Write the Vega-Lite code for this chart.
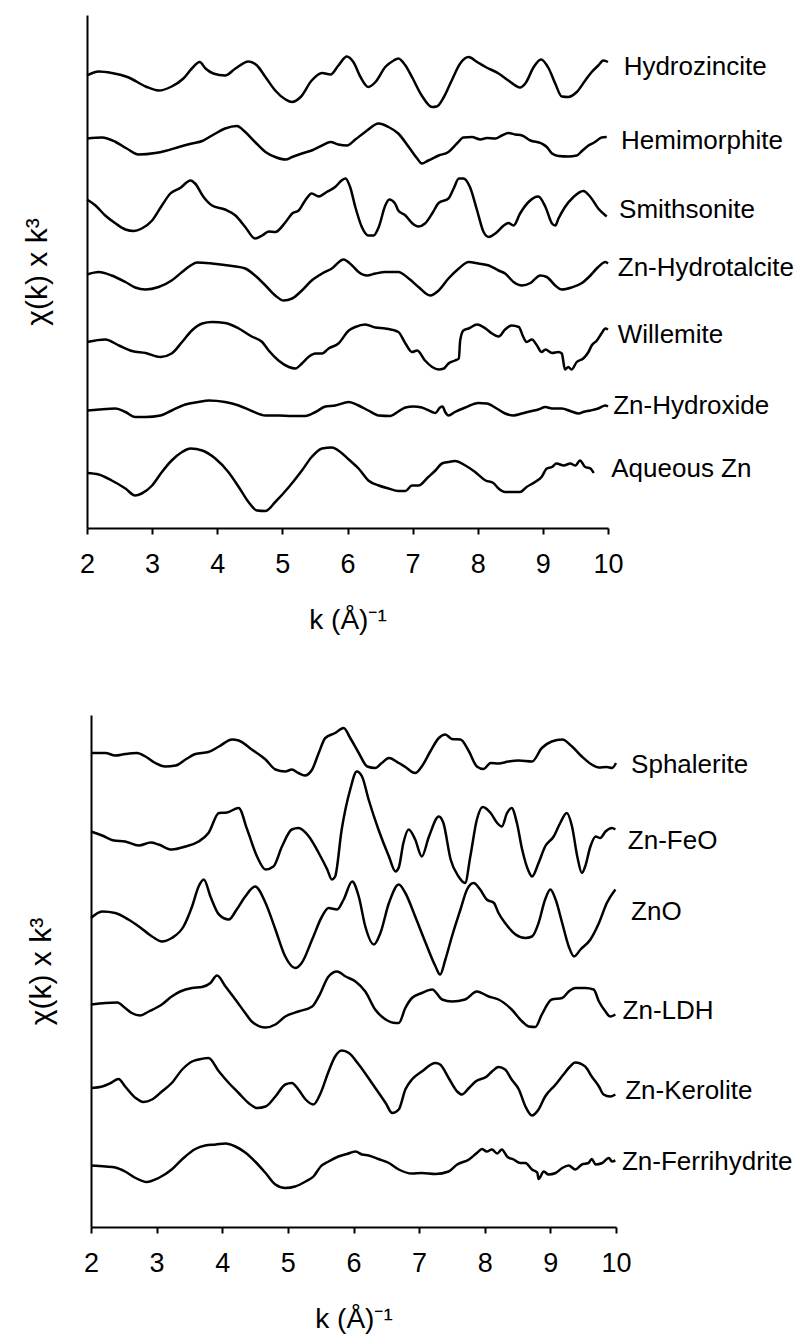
{
  "$schema": "https://vega.github.io/schema/vega-lite/v6.json",
  "background": "white",
  "padding": {"left": 22, "top": 15, "right": 5, "bottom": 5},
  "bounds": "full",
  "spacing": 81,
  "config": {
    "font": "Liberation Sans",
    "view": {"stroke": null},
    "axis": {
      "grid": false,
      "domainColor": "black",
      "domainWidth": 2,
      "tickColor": "black",
      "tickWidth": 2,
      "labelColor": "black",
      "titleColor": "black",
      "labelFont": "Liberation Sans",
      "titleFont": "Liberation Sans",
      "titleFontWeight": "normal"
    },
    "text": {"font": "Liberation Sans", "color": "black"}
  },
  "datasets": {
    "upper": [
      {"sample":"Hydrozincite","k":2.00,"chi":9.05},{"sample":"Hydrozincite","k":2.18,"chi":9.13},{"sample":"Hydrozincite","k":2.38,"chi":9.10},{"sample":"Hydrozincite","k":2.64,"chi":9.01},{"sample":"Hydrozincite","k":2.90,"chi":8.83},{"sample":"Hydrozincite","k":3.10,"chi":8.75},{"sample":"Hydrozincite","k":3.30,"chi":8.83},{"sample":"Hydrozincite","k":3.48,"chi":8.99},{"sample":"Hydrozincite","k":3.61,"chi":9.19},{"sample":"Hydrozincite","k":3.73,"chi":9.32},{"sample":"Hydrozincite","k":3.82,"chi":9.19},{"sample":"Hydrozincite","k":3.94,"chi":9.09},{"sample":"Hydrozincite","k":4.12,"chi":9.05},{"sample":"Hydrozincite","k":4.28,"chi":9.19},{"sample":"Hydrozincite","k":4.48,"chi":9.33},{"sample":"Hydrozincite","k":4.61,"chi":9.25},{"sample":"Hydrozincite","k":4.74,"chi":9.02},{"sample":"Hydrozincite","k":4.89,"chi":8.75},{"sample":"Hydrozincite","k":5.05,"chi":8.57},{"sample":"Hydrozincite","k":5.15,"chi":8.52},{"sample":"Hydrozincite","k":5.28,"chi":8.62},{"sample":"Hydrozincite","k":5.45,"chi":8.95},{"sample":"Hydrozincite","k":5.61,"chi":9.10},{"sample":"Hydrozincite","k":5.74,"chi":9.07},{"sample":"Hydrozincite","k":5.86,"chi":9.25},{"sample":"Hydrozincite","k":5.99,"chi":9.43},{"sample":"Hydrozincite","k":6.09,"chi":9.32},{"sample":"Hydrozincite","k":6.20,"chi":9.02},{"sample":"Hydrozincite","k":6.32,"chi":8.82},{"sample":"Hydrozincite","k":6.43,"chi":8.92},{"sample":"Hydrozincite","k":6.58,"chi":9.22},{"sample":"Hydrozincite","k":6.71,"chi":9.35},{"sample":"Hydrozincite","k":6.78,"chi":9.39},{"sample":"Hydrozincite","k":6.89,"chi":9.25},{"sample":"Hydrozincite","k":6.99,"chi":9.02},{"sample":"Hydrozincite","k":7.14,"chi":8.65},{"sample":"Hydrozincite","k":7.30,"chi":8.42},{"sample":"Hydrozincite","k":7.37,"chi":8.43},{"sample":"Hydrozincite","k":7.48,"chi":8.62},{"sample":"Hydrozincite","k":7.60,"chi":8.95},{"sample":"Hydrozincite","k":7.73,"chi":9.29},{"sample":"Hydrozincite","k":7.86,"chi":9.42},{"sample":"Hydrozincite","k":7.99,"chi":9.32},{"sample":"Hydrozincite","k":8.12,"chi":9.22},{"sample":"Hydrozincite","k":8.32,"chi":9.09},{"sample":"Hydrozincite","k":8.47,"chi":8.95},{"sample":"Hydrozincite","k":8.65,"chi":8.81},{"sample":"Hydrozincite","k":8.73,"chi":8.89},{"sample":"Hydrozincite","k":8.86,"chi":9.22},{"sample":"Hydrozincite","k":8.97,"chi":9.37},{"sample":"Hydrozincite","k":9.09,"chi":9.19},{"sample":"Hydrozincite","k":9.19,"chi":8.89},{"sample":"Hydrozincite","k":9.29,"chi":8.63},{"sample":"Hydrozincite","k":9.39,"chi":8.62},{"sample":"Hydrozincite","k":9.52,"chi":8.72},{"sample":"Hydrozincite","k":9.65,"chi":8.95},{"sample":"Hydrozincite","k":9.75,"chi":9.12},{"sample":"Hydrozincite","k":9.85,"chi":9.25},{"sample":"Hydrozincite","k":9.93,"chi":9.35},{"sample":"Hydrozincite","k":10.00,"chi":9.32},

      {"sample":"Hemimorphite","k":2.00,"chi":7.79},{"sample":"Hemimorphite","k":2.23,"chi":7.81},{"sample":"Hemimorphite","k":2.44,"chi":7.72},{"sample":"Hemimorphite","k":2.61,"chi":7.59},{"sample":"Hemimorphite","k":2.79,"chi":7.47},{"sample":"Hemimorphite","k":3.05,"chi":7.50},{"sample":"Hemimorphite","k":3.20,"chi":7.54},{"sample":"Hemimorphite","k":3.41,"chi":7.62},{"sample":"Hemimorphite","k":3.61,"chi":7.69},{"sample":"Hemimorphite","k":3.77,"chi":7.74},{"sample":"Hemimorphite","k":3.92,"chi":7.85},{"sample":"Hemimorphite","k":4.12,"chi":7.99},{"sample":"Hemimorphite","k":4.30,"chi":8.04},{"sample":"Hemimorphite","k":4.43,"chi":7.92},{"sample":"Hemimorphite","k":4.58,"chi":7.72},{"sample":"Hemimorphite","k":4.74,"chi":7.52},{"sample":"Hemimorphite","k":4.89,"chi":7.42},{"sample":"Hemimorphite","k":5.05,"chi":7.37},{"sample":"Hemimorphite","k":5.15,"chi":7.42},{"sample":"Hemimorphite","k":5.30,"chi":7.49},{"sample":"Hemimorphite","k":5.45,"chi":7.55},{"sample":"Hemimorphite","k":5.61,"chi":7.65},{"sample":"Hemimorphite","k":5.74,"chi":7.72},{"sample":"Hemimorphite","k":5.86,"chi":7.67},{"sample":"Hemimorphite","k":5.99,"chi":7.65},{"sample":"Hemimorphite","k":6.12,"chi":7.77},{"sample":"Hemimorphite","k":6.27,"chi":7.92},{"sample":"Hemimorphite","k":6.48,"chi":8.09},{"sample":"Hemimorphite","k":6.63,"chi":8.02},{"sample":"Hemimorphite","k":6.78,"chi":7.89},{"sample":"Hemimorphite","k":6.94,"chi":7.62},{"sample":"Hemimorphite","k":7.07,"chi":7.39},{"sample":"Hemimorphite","k":7.14,"chi":7.29},{"sample":"Hemimorphite","k":7.24,"chi":7.35},{"sample":"Hemimorphite","k":7.40,"chi":7.45},{"sample":"Hemimorphite","k":7.55,"chi":7.52},{"sample":"Hemimorphite","k":7.68,"chi":7.69},{"sample":"Hemimorphite","k":7.78,"chi":7.81},{"sample":"Hemimorphite","k":7.91,"chi":7.82},{"sample":"Hemimorphite","k":8.04,"chi":7.77},{"sample":"Hemimorphite","k":8.14,"chi":7.80},{"sample":"Hemimorphite","k":8.27,"chi":7.79},{"sample":"Hemimorphite","k":8.37,"chi":7.85},{"sample":"Hemimorphite","k":8.47,"chi":7.90},{"sample":"Hemimorphite","k":8.58,"chi":7.87},{"sample":"Hemimorphite","k":8.68,"chi":7.85},{"sample":"Hemimorphite","k":8.81,"chi":7.75},{"sample":"Hemimorphite","k":8.98,"chi":7.69},{"sample":"Hemimorphite","k":9.06,"chi":7.62},{"sample":"Hemimorphite","k":9.14,"chi":7.49},{"sample":"Hemimorphite","k":9.24,"chi":7.44},{"sample":"Hemimorphite","k":9.39,"chi":7.43},{"sample":"Hemimorphite","k":9.52,"chi":7.45},{"sample":"Hemimorphite","k":9.60,"chi":7.54},{"sample":"Hemimorphite","k":9.70,"chi":7.65},{"sample":"Hemimorphite","k":9.80,"chi":7.72},{"sample":"Hemimorphite","k":9.90,"chi":7.81},{"sample":"Hemimorphite","k":9.98,"chi":7.82},

      {"sample":"Smithsonite","k":2.00,"chi":6.57},{"sample":"Smithsonite","k":2.13,"chi":6.45},{"sample":"Smithsonite","k":2.28,"chi":6.25},{"sample":"Smithsonite","k":2.44,"chi":6.09},{"sample":"Smithsonite","k":2.59,"chi":5.97},{"sample":"Smithsonite","k":2.72,"chi":5.94},{"sample":"Smithsonite","k":2.84,"chi":5.99},{"sample":"Smithsonite","k":3.00,"chi":6.15},{"sample":"Smithsonite","k":3.15,"chi":6.45},{"sample":"Smithsonite","k":3.28,"chi":6.69},{"sample":"Smithsonite","k":3.43,"chi":6.80},{"sample":"Smithsonite","k":3.59,"chi":6.95},{"sample":"Smithsonite","k":3.66,"chi":6.89},{"sample":"Smithsonite","k":3.79,"chi":6.62},{"sample":"Smithsonite","k":3.92,"chi":6.45},{"sample":"Smithsonite","k":4.12,"chi":6.37},{"sample":"Smithsonite","k":4.28,"chi":6.25},{"sample":"Smithsonite","k":4.43,"chi":6.02},{"sample":"Smithsonite","k":4.58,"chi":5.79},{"sample":"Smithsonite","k":4.69,"chi":5.85},{"sample":"Smithsonite","k":4.79,"chi":5.93},{"sample":"Smithsonite","k":4.89,"chi":5.92},{"sample":"Smithsonite","k":5.05,"chi":6.12},{"sample":"Smithsonite","k":5.15,"chi":6.29},{"sample":"Smithsonite","k":5.25,"chi":6.35},{"sample":"Smithsonite","k":5.35,"chi":6.55},{"sample":"Smithsonite","k":5.45,"chi":6.69},{"sample":"Smithsonite","k":5.56,"chi":6.63},{"sample":"Smithsonite","k":5.68,"chi":6.72},{"sample":"Smithsonite","k":5.81,"chi":6.82},{"sample":"Smithsonite","k":5.91,"chi":6.95},{"sample":"Smithsonite","k":5.97,"chi":6.99},{"sample":"Smithsonite","k":6.04,"chi":6.82},{"sample":"Smithsonite","k":6.12,"chi":6.42},{"sample":"Smithsonite","k":6.22,"chi":6.02},{"sample":"Smithsonite","k":6.32,"chi":5.85},{"sample":"Smithsonite","k":6.40,"chi":5.85},{"sample":"Smithsonite","k":6.48,"chi":6.02},{"sample":"Smithsonite","k":6.58,"chi":6.45},{"sample":"Smithsonite","k":6.64,"chi":6.57},{"sample":"Smithsonite","k":6.73,"chi":6.49},{"sample":"Smithsonite","k":6.78,"chi":6.35},{"sample":"Smithsonite","k":6.89,"chi":6.25},{"sample":"Smithsonite","k":6.99,"chi":6.10},{"sample":"Smithsonite","k":7.09,"chi":6.03},{"sample":"Smithsonite","k":7.19,"chi":6.09},{"sample":"Smithsonite","k":7.30,"chi":6.29},{"sample":"Smithsonite","k":7.40,"chi":6.50},{"sample":"Smithsonite","k":7.55,"chi":6.59},{"sample":"Smithsonite","k":7.63,"chi":6.79},{"sample":"Smithsonite","k":7.71,"chi":6.99},{"sample":"Smithsonite","k":7.78,"chi":6.99},{"sample":"Smithsonite","k":7.88,"chi":6.82},{"sample":"Smithsonite","k":7.99,"chi":6.35},{"sample":"Smithsonite","k":8.09,"chi":5.92},{"sample":"Smithsonite","k":8.17,"chi":5.82},{"sample":"Smithsonite","k":8.27,"chi":5.89},{"sample":"Smithsonite","k":8.40,"chi":6.05},{"sample":"Smithsonite","k":8.47,"chi":6.10},{"sample":"Smithsonite","k":8.55,"chi":6.05},{"sample":"Smithsonite","k":8.65,"chi":6.29},{"sample":"Smithsonite","k":8.78,"chi":6.52},{"sample":"Smithsonite","k":8.93,"chi":6.63},{"sample":"Smithsonite","k":9.04,"chi":6.42},{"sample":"Smithsonite","k":9.14,"chi":6.09},{"sample":"Smithsonite","k":9.19,"chi":6.05},{"sample":"Smithsonite","k":9.24,"chi":6.19},{"sample":"Smithsonite","k":9.34,"chi":6.42},{"sample":"Smithsonite","k":9.47,"chi":6.62},{"sample":"Smithsonite","k":9.62,"chi":6.74},{"sample":"Smithsonite","k":9.73,"chi":6.62},{"sample":"Smithsonite","k":9.85,"chi":6.39},{"sample":"Smithsonite","k":9.98,"chi":6.23},

      {"sample":"Zn-Hydrotalcite","k":2.00,"chi":5.07},{"sample":"Zn-Hydrotalcite","k":2.18,"chi":5.12},{"sample":"Zn-Hydrotalcite","k":2.38,"chi":5.05},{"sample":"Zn-Hydrotalcite","k":2.59,"chi":4.92},{"sample":"Zn-Hydrotalcite","k":2.74,"chi":4.81},{"sample":"Zn-Hydrotalcite","k":2.90,"chi":4.77},{"sample":"Zn-Hydrotalcite","k":3.10,"chi":4.82},{"sample":"Zn-Hydrotalcite","k":3.30,"chi":4.95},{"sample":"Zn-Hydrotalcite","k":3.46,"chi":5.12},{"sample":"Zn-Hydrotalcite","k":3.59,"chi":5.25},{"sample":"Zn-Hydrotalcite","k":3.69,"chi":5.31},{"sample":"Zn-Hydrotalcite","k":3.92,"chi":5.29},{"sample":"Zn-Hydrotalcite","k":4.23,"chi":5.24},{"sample":"Zn-Hydrotalcite","k":4.43,"chi":5.19},{"sample":"Zn-Hydrotalcite","k":4.58,"chi":5.05},{"sample":"Zn-Hydrotalcite","k":4.74,"chi":4.85},{"sample":"Zn-Hydrotalcite","k":4.89,"chi":4.65},{"sample":"Zn-Hydrotalcite","k":5.02,"chi":4.55},{"sample":"Zn-Hydrotalcite","k":5.15,"chi":4.59},{"sample":"Zn-Hydrotalcite","k":5.30,"chi":4.75},{"sample":"Zn-Hydrotalcite","k":5.45,"chi":4.95},{"sample":"Zn-Hydrotalcite","k":5.61,"chi":5.09},{"sample":"Zn-Hydrotalcite","k":5.76,"chi":5.19},{"sample":"Zn-Hydrotalcite","k":5.94,"chi":5.37},{"sample":"Zn-Hydrotalcite","k":6.07,"chi":5.25},{"sample":"Zn-Hydrotalcite","k":6.17,"chi":5.12},{"sample":"Zn-Hydrotalcite","k":6.30,"chi":5.05},{"sample":"Zn-Hydrotalcite","k":6.43,"chi":5.09},{"sample":"Zn-Hydrotalcite","k":6.58,"chi":5.12},{"sample":"Zn-Hydrotalcite","k":6.78,"chi":5.12},{"sample":"Zn-Hydrotalcite","k":6.94,"chi":4.99},{"sample":"Zn-Hydrotalcite","k":7.09,"chi":4.82},{"sample":"Zn-Hydrotalcite","k":7.27,"chi":4.65},{"sample":"Zn-Hydrotalcite","k":7.40,"chi":4.75},{"sample":"Zn-Hydrotalcite","k":7.55,"chi":4.99},{"sample":"Zn-Hydrotalcite","k":7.71,"chi":5.19},{"sample":"Zn-Hydrotalcite","k":7.86,"chi":5.32},{"sample":"Zn-Hydrotalcite","k":8.01,"chi":5.29},{"sample":"Zn-Hydrotalcite","k":8.17,"chi":5.25},{"sample":"Zn-Hydrotalcite","k":8.32,"chi":5.15},{"sample":"Zn-Hydrotalcite","k":8.42,"chi":5.09},{"sample":"Zn-Hydrotalcite","k":8.55,"chi":4.92},{"sample":"Zn-Hydrotalcite","k":8.68,"chi":4.85},{"sample":"Zn-Hydrotalcite","k":8.81,"chi":4.90},{"sample":"Zn-Hydrotalcite","k":8.96,"chi":5.05},{"sample":"Zn-Hydrotalcite","k":9.06,"chi":5.02},{"sample":"Zn-Hydrotalcite","k":9.19,"chi":4.85},{"sample":"Zn-Hydrotalcite","k":9.29,"chi":4.77},{"sample":"Zn-Hydrotalcite","k":9.44,"chi":4.81},{"sample":"Zn-Hydrotalcite","k":9.60,"chi":4.90},{"sample":"Zn-Hydrotalcite","k":9.73,"chi":5.05},{"sample":"Zn-Hydrotalcite","k":9.85,"chi":5.22},{"sample":"Zn-Hydrotalcite","k":9.96,"chi":5.32},{"sample":"Zn-Hydrotalcite","k":10.00,"chi":5.29},

      {"sample":"Willemite","k":2.00,"chi":3.72},{"sample":"Willemite","k":2.28,"chi":3.77},{"sample":"Willemite","k":2.49,"chi":3.65},{"sample":"Willemite","k":2.69,"chi":3.54},{"sample":"Willemite","k":2.90,"chi":3.50},{"sample":"Willemite","k":3.13,"chi":3.42},{"sample":"Willemite","k":3.30,"chi":3.49},{"sample":"Willemite","k":3.46,"chi":3.72},{"sample":"Willemite","k":3.61,"chi":3.95},{"sample":"Willemite","k":3.77,"chi":4.09},{"sample":"Willemite","k":3.92,"chi":4.12},{"sample":"Willemite","k":4.12,"chi":4.10},{"sample":"Willemite","k":4.33,"chi":3.99},{"sample":"Willemite","k":4.53,"chi":3.83},{"sample":"Willemite","k":4.69,"chi":3.72},{"sample":"Willemite","k":4.79,"chi":3.55},{"sample":"Willemite","k":4.94,"chi":3.35},{"sample":"Willemite","k":5.10,"chi":3.22},{"sample":"Willemite","k":5.20,"chi":3.19},{"sample":"Willemite","k":5.30,"chi":3.29},{"sample":"Willemite","k":5.40,"chi":3.42},{"sample":"Willemite","k":5.51,"chi":3.49},{"sample":"Willemite","k":5.61,"chi":3.49},{"sample":"Willemite","k":5.71,"chi":3.59},{"sample":"Willemite","k":5.86,"chi":3.69},{"sample":"Willemite","k":6.02,"chi":3.95},{"sample":"Willemite","k":6.12,"chi":4.02},{"sample":"Willemite","k":6.27,"chi":4.07},{"sample":"Willemite","k":6.43,"chi":4.01},{"sample":"Willemite","k":6.58,"chi":3.99},{"sample":"Willemite","k":6.78,"chi":3.92},{"sample":"Willemite","k":6.89,"chi":3.69},{"sample":"Willemite","k":6.99,"chi":3.52},{"sample":"Willemite","k":7.07,"chi":3.55},{"sample":"Willemite","k":7.19,"chi":3.35},{"sample":"Willemite","k":7.30,"chi":3.22},{"sample":"Willemite","k":7.40,"chi":3.17},{"sample":"Willemite","k":7.48,"chi":3.19},{"sample":"Willemite","k":7.55,"chi":3.29},{"sample":"Willemite","k":7.65,"chi":3.35},{"sample":"Willemite","k":7.71,"chi":3.39},{"sample":"Willemite","k":7.73,"chi":3.75},{"sample":"Willemite","k":7.78,"chi":3.95},{"sample":"Willemite","k":7.86,"chi":3.99},{"sample":"Willemite","k":7.99,"chi":4.07},{"sample":"Willemite","k":8.12,"chi":3.99},{"sample":"Willemite","k":8.22,"chi":3.89},{"sample":"Willemite","k":8.32,"chi":3.83},{"sample":"Willemite","k":8.42,"chi":3.97},{"sample":"Willemite","k":8.52,"chi":4.05},{"sample":"Willemite","k":8.63,"chi":4.02},{"sample":"Willemite","k":8.70,"chi":3.82},{"sample":"Willemite","k":8.75,"chi":3.72},{"sample":"Willemite","k":8.83,"chi":3.77},{"sample":"Willemite","k":8.91,"chi":3.65},{"sample":"Willemite","k":8.98,"chi":3.52},{"sample":"Willemite","k":9.04,"chi":3.57},{"sample":"Willemite","k":9.14,"chi":3.50},{"sample":"Willemite","k":9.24,"chi":3.52},{"sample":"Willemite","k":9.29,"chi":3.49},{"sample":"Willemite","k":9.34,"chi":3.17},{"sample":"Willemite","k":9.39,"chi":3.22},{"sample":"Willemite","k":9.44,"chi":3.17},{"sample":"Willemite","k":9.52,"chi":3.32},{"sample":"Willemite","k":9.62,"chi":3.39},{"sample":"Willemite","k":9.70,"chi":3.52},{"sample":"Willemite","k":9.75,"chi":3.65},{"sample":"Willemite","k":9.83,"chi":3.75},{"sample":"Willemite","k":9.90,"chi":3.89},{"sample":"Willemite","k":9.96,"chi":3.99},{"sample":"Willemite","k":10.00,"chi":3.97},

      {"sample":"Zn-Hydroxide","k":2.00,"chi":2.35},{"sample":"Zn-Hydroxide","k":2.18,"chi":2.37},{"sample":"Zn-Hydroxide","k":2.44,"chi":2.39},{"sample":"Zn-Hydroxide","k":2.59,"chi":2.32},{"sample":"Zn-Hydroxide","k":2.74,"chi":2.22},{"sample":"Zn-Hydroxide","k":2.90,"chi":2.22},{"sample":"Zn-Hydroxide","k":3.13,"chi":2.25},{"sample":"Zn-Hydroxide","k":3.30,"chi":2.35},{"sample":"Zn-Hydroxide","k":3.51,"chi":2.47},{"sample":"Zn-Hydroxide","k":3.71,"chi":2.52},{"sample":"Zn-Hydroxide","k":3.87,"chi":2.55},{"sample":"Zn-Hydroxide","k":4.12,"chi":2.52},{"sample":"Zn-Hydroxide","k":4.33,"chi":2.45},{"sample":"Zn-Hydroxide","k":4.53,"chi":2.34},{"sample":"Zn-Hydroxide","k":4.74,"chi":2.25},{"sample":"Zn-Hydroxide","k":4.94,"chi":2.25},{"sample":"Zn-Hydroxide","k":5.15,"chi":2.24},{"sample":"Zn-Hydroxide","k":5.35,"chi":2.24},{"sample":"Zn-Hydroxide","k":5.51,"chi":2.32},{"sample":"Zn-Hydroxide","k":5.66,"chi":2.43},{"sample":"Zn-Hydroxide","k":5.81,"chi":2.45},{"sample":"Zn-Hydroxide","k":6.02,"chi":2.52},{"sample":"Zn-Hydroxide","k":6.17,"chi":2.45},{"sample":"Zn-Hydroxide","k":6.32,"chi":2.35},{"sample":"Zn-Hydroxide","k":6.48,"chi":2.25},{"sample":"Zn-Hydroxide","k":6.66,"chi":2.24},{"sample":"Zn-Hydroxide","k":6.78,"chi":2.33},{"sample":"Zn-Hydroxide","k":6.89,"chi":2.41},{"sample":"Zn-Hydroxide","k":7.01,"chi":2.43},{"sample":"Zn-Hydroxide","k":7.14,"chi":2.41},{"sample":"Zn-Hydroxide","k":7.30,"chi":2.32},{"sample":"Zn-Hydroxide","k":7.35,"chi":2.30},{"sample":"Zn-Hydroxide","k":7.42,"chi":2.41},{"sample":"Zn-Hydroxide","k":7.46,"chi":2.43},{"sample":"Zn-Hydroxide","k":7.50,"chi":2.32},{"sample":"Zn-Hydroxide","k":7.55,"chi":2.25},{"sample":"Zn-Hydroxide","k":7.65,"chi":2.32},{"sample":"Zn-Hydroxide","k":7.81,"chi":2.41},{"sample":"Zn-Hydroxide","k":8.01,"chi":2.50},{"sample":"Zn-Hydroxide","k":8.14,"chi":2.49},{"sample":"Zn-Hydroxide","k":8.29,"chi":2.39},{"sample":"Zn-Hydroxide","k":8.42,"chi":2.29},{"sample":"Zn-Hydroxide","k":8.55,"chi":2.25},{"sample":"Zn-Hydroxide","k":8.68,"chi":2.29},{"sample":"Zn-Hydroxide","k":8.83,"chi":2.34},{"sample":"Zn-Hydroxide","k":8.93,"chi":2.37},{"sample":"Zn-Hydroxide","k":9.04,"chi":2.42},{"sample":"Zn-Hydroxide","k":9.14,"chi":2.39},{"sample":"Zn-Hydroxide","k":9.29,"chi":2.39},{"sample":"Zn-Hydroxide","k":9.42,"chi":2.34},{"sample":"Zn-Hydroxide","k":9.55,"chi":2.29},{"sample":"Zn-Hydroxide","k":9.62,"chi":2.32},{"sample":"Zn-Hydroxide","k":9.73,"chi":2.35},{"sample":"Zn-Hydroxide","k":9.85,"chi":2.39},{"sample":"Zn-Hydroxide","k":9.96,"chi":2.45},{"sample":"Zn-Hydroxide","k":10.00,"chi":2.43},

      {"sample":"Aqueous Zn","k":2.00,"chi":1.10},{"sample":"Aqueous Zn","k":2.18,"chi":1.07},{"sample":"Aqueous Zn","k":2.38,"chi":0.95},{"sample":"Aqueous Zn","k":2.59,"chi":0.79},{"sample":"Aqueous Zn","k":2.74,"chi":0.65},{"sample":"Aqueous Zn","k":2.84,"chi":0.69},{"sample":"Aqueous Zn","k":3.00,"chi":0.85},{"sample":"Aqueous Zn","k":3.15,"chi":1.12},{"sample":"Aqueous Zn","k":3.30,"chi":1.35},{"sample":"Aqueous Zn","k":3.46,"chi":1.52},{"sample":"Aqueous Zn","k":3.59,"chi":1.59},{"sample":"Aqueous Zn","k":3.77,"chi":1.55},{"sample":"Aqueous Zn","k":3.97,"chi":1.39},{"sample":"Aqueous Zn","k":4.17,"chi":1.12},{"sample":"Aqueous Zn","k":4.33,"chi":0.82},{"sample":"Aqueous Zn","k":4.48,"chi":0.52},{"sample":"Aqueous Zn","k":4.61,"chi":0.35},{"sample":"Aqueous Zn","k":4.74,"chi":0.34},{"sample":"Aqueous Zn","k":4.89,"chi":0.52},{"sample":"Aqueous Zn","k":5.10,"chi":0.82},{"sample":"Aqueous Zn","k":5.30,"chi":1.15},{"sample":"Aqueous Zn","k":5.45,"chi":1.42},{"sample":"Aqueous Zn","k":5.61,"chi":1.59},{"sample":"Aqueous Zn","k":5.76,"chi":1.61},{"sample":"Aqueous Zn","k":5.89,"chi":1.52},{"sample":"Aqueous Zn","k":6.02,"chi":1.37},{"sample":"Aqueous Zn","k":6.17,"chi":1.19},{"sample":"Aqueous Zn","k":6.32,"chi":0.95},{"sample":"Aqueous Zn","k":6.48,"chi":0.85},{"sample":"Aqueous Zn","k":6.63,"chi":0.79},{"sample":"Aqueous Zn","k":6.78,"chi":0.74},{"sample":"Aqueous Zn","k":6.89,"chi":0.74},{"sample":"Aqueous Zn","k":6.99,"chi":0.85},{"sample":"Aqueous Zn","k":7.09,"chi":0.85},{"sample":"Aqueous Zn","k":7.24,"chi":1.02},{"sample":"Aqueous Zn","k":7.35,"chi":1.15},{"sample":"Aqueous Zn","k":7.45,"chi":1.29},{"sample":"Aqueous Zn","k":7.55,"chi":1.32},{"sample":"Aqueous Zn","k":7.65,"chi":1.34},{"sample":"Aqueous Zn","k":7.81,"chi":1.25},{"sample":"Aqueous Zn","k":7.96,"chi":1.12},{"sample":"Aqueous Zn","k":8.12,"chi":0.95},{"sample":"Aqueous Zn","k":8.24,"chi":0.90},{"sample":"Aqueous Zn","k":8.32,"chi":0.79},{"sample":"Aqueous Zn","k":8.42,"chi":0.72},{"sample":"Aqueous Zn","k":8.52,"chi":0.72},{"sample":"Aqueous Zn","k":8.65,"chi":0.72},{"sample":"Aqueous Zn","k":8.75,"chi":0.82},{"sample":"Aqueous Zn","k":8.88,"chi":0.92},{"sample":"Aqueous Zn","k":8.98,"chi":1.02},{"sample":"Aqueous Zn","k":9.06,"chi":1.19},{"sample":"Aqueous Zn","k":9.14,"chi":1.22},{"sample":"Aqueous Zn","k":9.21,"chi":1.29},{"sample":"Aqueous Zn","k":9.32,"chi":1.25},{"sample":"Aqueous Zn","k":9.42,"chi":1.29},{"sample":"Aqueous Zn","k":9.50,"chi":1.25},{"sample":"Aqueous Zn","k":9.57,"chi":1.35},{"sample":"Aqueous Zn","k":9.65,"chi":1.22},{"sample":"Aqueous Zn","k":9.73,"chi":1.19},{"sample":"Aqueous Zn","k":9.78,"chi":1.10}
    ],
    "upperLabels": [
      {"sample":"Hydrozincite","k":10.24,"chi":9.23},
      {"sample":"Hemimorphite","k":10.20,"chi":7.75},
      {"sample":"Smithsonite","k":10.17,"chi":6.37},
      {"sample":"Zn-Hydrotalcite","k":10.15,"chi":5.21},
      {"sample":"Willemite","k":10.15,"chi":3.87},
      {"sample":"Zn-Hydroxide","k":10.08,"chi":2.44},
      {"sample":"Aqueous Zn","k":10.05,"chi":1.18}
    ],
    "lower": [
      {"sample":"Sphalerite","k":2.00,"chi":9.48},{"sample":"Sphalerite","k":2.22,"chi":9.48},{"sample":"Sphalerite","k":2.37,"chi":9.43},{"sample":"Sphalerite","k":2.52,"chi":9.46},{"sample":"Sphalerite","k":2.70,"chi":9.48},{"sample":"Sphalerite","k":2.83,"chi":9.41},{"sample":"Sphalerite","k":2.98,"chi":9.28},{"sample":"Sphalerite","k":3.13,"chi":9.21},{"sample":"Sphalerite","k":3.29,"chi":9.23},{"sample":"Sphalerite","k":3.44,"chi":9.35},{"sample":"Sphalerite","k":3.59,"chi":9.46},{"sample":"Sphalerite","k":3.79,"chi":9.50},{"sample":"Sphalerite","k":3.95,"chi":9.61},{"sample":"Sphalerite","k":4.15,"chi":9.75},{"sample":"Sphalerite","k":4.25,"chi":9.73},{"sample":"Sphalerite","k":4.45,"chi":9.55},{"sample":"Sphalerite","k":4.66,"chi":9.35},{"sample":"Sphalerite","k":4.81,"chi":9.15},{"sample":"Sphalerite","k":4.96,"chi":9.11},{"sample":"Sphalerite","k":5.06,"chi":9.15},{"sample":"Sphalerite","k":5.16,"chi":9.08},{"sample":"Sphalerite","k":5.26,"chi":9.03},{"sample":"Sphalerite","k":5.37,"chi":9.15},{"sample":"Sphalerite","k":5.47,"chi":9.48},{"sample":"Sphalerite","k":5.57,"chi":9.78},{"sample":"Sphalerite","k":5.72,"chi":9.88},{"sample":"Sphalerite","k":5.85,"chi":9.98},{"sample":"Sphalerite","k":5.95,"chi":9.78},{"sample":"Sphalerite","k":6.08,"chi":9.48},{"sample":"Sphalerite","k":6.21,"chi":9.21},{"sample":"Sphalerite","k":6.33,"chi":9.18},{"sample":"Sphalerite","k":6.43,"chi":9.28},{"sample":"Sphalerite","k":6.54,"chi":9.38},{"sample":"Sphalerite","k":6.69,"chi":9.28},{"sample":"Sphalerite","k":6.79,"chi":9.20},{"sample":"Sphalerite","k":6.94,"chi":9.08},{"sample":"Sphalerite","k":7.04,"chi":9.21},{"sample":"Sphalerite","k":7.17,"chi":9.51},{"sample":"Sphalerite","k":7.30,"chi":9.78},{"sample":"Sphalerite","k":7.40,"chi":9.85},{"sample":"Sphalerite","k":7.50,"chi":9.76},{"sample":"Sphalerite","k":7.63,"chi":9.75},{"sample":"Sphalerite","k":7.76,"chi":9.51},{"sample":"Sphalerite","k":7.88,"chi":9.21},{"sample":"Sphalerite","k":7.98,"chi":9.16},{"sample":"Sphalerite","k":8.09,"chi":9.28},{"sample":"Sphalerite","k":8.21,"chi":9.27},{"sample":"Sphalerite","k":8.36,"chi":9.31},{"sample":"Sphalerite","k":8.52,"chi":9.33},{"sample":"Sphalerite","k":8.72,"chi":9.31},{"sample":"Sphalerite","k":8.87,"chi":9.58},{"sample":"Sphalerite","k":9.02,"chi":9.71},{"sample":"Sphalerite","k":9.18,"chi":9.75},{"sample":"Sphalerite","k":9.33,"chi":9.61},{"sample":"Sphalerite","k":9.48,"chi":9.41},{"sample":"Sphalerite","k":9.63,"chi":9.25},{"sample":"Sphalerite","k":9.74,"chi":9.19},{"sample":"Sphalerite","k":9.86,"chi":9.20},{"sample":"Sphalerite","k":9.94,"chi":9.18},{"sample":"Sphalerite","k":10.00,"chi":9.28},

      {"sample":"Zn-FeO","k":2.00,"chi":7.91},{"sample":"Zn-FeO","k":2.17,"chi":7.83},{"sample":"Zn-FeO","k":2.35,"chi":7.73},{"sample":"Zn-FeO","k":2.52,"chi":7.71},{"sample":"Zn-FeO","k":2.73,"chi":7.63},{"sample":"Zn-FeO","k":2.91,"chi":7.69},{"sample":"Zn-FeO","k":3.03,"chi":7.65},{"sample":"Zn-FeO","k":3.23,"chi":7.55},{"sample":"Zn-FeO","k":3.44,"chi":7.61},{"sample":"Zn-FeO","k":3.64,"chi":7.71},{"sample":"Zn-FeO","k":3.79,"chi":7.88},{"sample":"Zn-FeO","k":3.95,"chi":8.28},{"sample":"Zn-FeO","k":4.07,"chi":8.29},{"sample":"Zn-FeO","k":4.25,"chi":8.38},{"sample":"Zn-FeO","k":4.38,"chi":7.95},{"sample":"Zn-FeO","k":4.53,"chi":7.41},{"sample":"Zn-FeO","k":4.66,"chi":7.15},{"sample":"Zn-FeO","k":4.78,"chi":7.21},{"sample":"Zn-FeO","k":4.91,"chi":7.61},{"sample":"Zn-FeO","k":5.06,"chi":7.95},{"sample":"Zn-FeO","k":5.16,"chi":7.98},{"sample":"Zn-FeO","k":5.32,"chi":7.81},{"sample":"Zn-FeO","k":5.47,"chi":7.48},{"sample":"Zn-FeO","k":5.60,"chi":7.15},{"sample":"Zn-FeO","k":5.67,"chi":6.95},{"sample":"Zn-FeO","k":5.72,"chi":7.01},{"sample":"Zn-FeO","k":5.82,"chi":7.95},{"sample":"Zn-FeO","k":5.95,"chi":8.75},{"sample":"Zn-FeO","k":6.05,"chi":9.11},{"sample":"Zn-FeO","k":6.13,"chi":9.01},{"sample":"Zn-FeO","k":6.23,"chi":8.55},{"sample":"Zn-FeO","k":6.38,"chi":7.95},{"sample":"Zn-FeO","k":6.54,"chi":7.41},{"sample":"Zn-FeO","k":6.64,"chi":7.11},{"sample":"Zn-FeO","k":6.69,"chi":7.19},{"sample":"Zn-FeO","k":6.76,"chi":7.68},{"sample":"Zn-FeO","k":6.84,"chi":7.95},{"sample":"Zn-FeO","k":6.94,"chi":7.75},{"sample":"Zn-FeO","k":7.04,"chi":7.41},{"sample":"Zn-FeO","k":7.15,"chi":7.81},{"sample":"Zn-FeO","k":7.30,"chi":8.21},{"sample":"Zn-FeO","k":7.37,"chi":8.08},{"sample":"Zn-FeO","k":7.48,"chi":7.35},{"sample":"Zn-FeO","k":7.60,"chi":7.01},{"sample":"Zn-FeO","k":7.70,"chi":6.88},{"sample":"Zn-FeO","k":7.78,"chi":7.41},{"sample":"Zn-FeO","k":7.88,"chi":8.15},{"sample":"Zn-FeO","k":7.97,"chi":8.40},{"sample":"Zn-FeO","k":8.09,"chi":8.28},{"sample":"Zn-FeO","k":8.19,"chi":8.08},{"sample":"Zn-FeO","k":8.26,"chi":8.01},{"sample":"Zn-FeO","k":8.34,"chi":8.28},{"sample":"Zn-FeO","k":8.41,"chi":8.38},{"sample":"Zn-FeO","k":8.49,"chi":8.08},{"sample":"Zn-FeO","k":8.57,"chi":7.55},{"sample":"Zn-FeO","k":8.67,"chi":7.11},{"sample":"Zn-FeO","k":8.72,"chi":7.01},{"sample":"Zn-FeO","k":8.82,"chi":7.28},{"sample":"Zn-FeO","k":8.92,"chi":7.61},{"sample":"Zn-FeO","k":9.05,"chi":7.81},{"sample":"Zn-FeO","k":9.15,"chi":8.08},{"sample":"Zn-FeO","k":9.25,"chi":8.28},{"sample":"Zn-FeO","k":9.33,"chi":8.01},{"sample":"Zn-FeO","k":9.41,"chi":7.41},{"sample":"Zn-FeO","k":9.48,"chi":7.08},{"sample":"Zn-FeO","k":9.53,"chi":7.21},{"sample":"Zn-FeO","k":9.61,"chi":7.61},{"sample":"Zn-FeO","k":9.69,"chi":7.81},{"sample":"Zn-FeO","k":9.76,"chi":7.78},{"sample":"Zn-FeO","k":9.84,"chi":7.91},{"sample":"Zn-FeO","k":9.94,"chi":7.98},{"sample":"Zn-FeO","k":9.99,"chi":7.95},

      {"sample":"ZnO","k":2.00,"chi":6.18},{"sample":"ZnO","k":2.17,"chi":6.31},{"sample":"ZnO","k":2.37,"chi":6.28},{"sample":"ZnO","k":2.57,"chi":6.15},{"sample":"ZnO","k":2.73,"chi":6.01},{"sample":"ZnO","k":2.93,"chi":5.81},{"sample":"ZnO","k":3.08,"chi":5.71},{"sample":"ZnO","k":3.23,"chi":5.78},{"sample":"ZnO","k":3.41,"chi":6.01},{"sample":"ZnO","k":3.54,"chi":6.41},{"sample":"ZnO","k":3.64,"chi":6.81},{"sample":"ZnO","k":3.72,"chi":6.95},{"sample":"ZnO","k":3.82,"chi":6.61},{"sample":"ZnO","k":3.95,"chi":6.25},{"sample":"ZnO","k":4.10,"chi":6.15},{"sample":"ZnO","k":4.22,"chi":6.35},{"sample":"ZnO","k":4.35,"chi":6.61},{"sample":"ZnO","k":4.50,"chi":6.81},{"sample":"ZnO","k":4.66,"chi":6.48},{"sample":"ZnO","k":4.81,"chi":5.95},{"sample":"ZnO","k":4.96,"chi":5.41},{"sample":"ZnO","k":5.11,"chi":5.18},{"sample":"ZnO","k":5.21,"chi":5.28},{"sample":"ZnO","k":5.37,"chi":5.75},{"sample":"ZnO","k":5.52,"chi":6.21},{"sample":"ZnO","k":5.62,"chi":6.38},{"sample":"ZnO","k":5.75,"chi":6.35},{"sample":"ZnO","k":5.85,"chi":6.55},{"sample":"ZnO","k":5.98,"chi":6.91},{"sample":"ZnO","k":6.08,"chi":6.61},{"sample":"ZnO","k":6.18,"chi":6.01},{"sample":"ZnO","k":6.31,"chi":5.65},{"sample":"ZnO","k":6.41,"chi":5.88},{"sample":"ZnO","k":6.54,"chi":6.48},{"sample":"ZnO","k":6.69,"chi":6.85},{"sample":"ZnO","k":6.79,"chi":6.68},{"sample":"ZnO","k":6.94,"chi":6.21},{"sample":"ZnO","k":7.10,"chi":5.68},{"sample":"ZnO","k":7.25,"chi":5.21},{"sample":"ZnO","k":7.32,"chi":5.05},{"sample":"ZnO","k":7.40,"chi":5.35},{"sample":"ZnO","k":7.50,"chi":5.81},{"sample":"ZnO","k":7.63,"chi":6.35},{"sample":"ZnO","k":7.73,"chi":6.75},{"sample":"ZnO","k":7.83,"chi":6.88},{"sample":"ZnO","k":7.93,"chi":6.75},{"sample":"ZnO","k":8.03,"chi":6.55},{"sample":"ZnO","k":8.14,"chi":6.48},{"sample":"ZnO","k":8.21,"chi":6.28},{"sample":"ZnO","k":8.31,"chi":6.08},{"sample":"ZnO","k":8.47,"chi":5.85},{"sample":"ZnO","k":8.62,"chi":5.78},{"sample":"ZnO","k":8.72,"chi":5.81},{"sample":"ZnO","k":8.82,"chi":6.08},{"sample":"ZnO","k":8.92,"chi":6.55},{"sample":"ZnO","k":9.00,"chi":6.75},{"sample":"ZnO","k":9.08,"chi":6.55},{"sample":"ZnO","k":9.18,"chi":6.08},{"sample":"ZnO","k":9.28,"chi":5.61},{"sample":"ZnO","k":9.36,"chi":5.41},{"sample":"ZnO","k":9.46,"chi":5.55},{"sample":"ZnO","k":9.61,"chi":5.75},{"sample":"ZnO","k":9.74,"chi":6.08},{"sample":"ZnO","k":9.86,"chi":6.48},{"sample":"ZnO","k":9.99,"chi":6.75},

      {"sample":"Zn-LDH","k":2.00,"chi":4.45},{"sample":"Zn-LDH","k":2.22,"chi":4.48},{"sample":"Zn-LDH","k":2.40,"chi":4.49},{"sample":"Zn-LDH","k":2.52,"chi":4.38},{"sample":"Zn-LDH","k":2.62,"chi":4.28},{"sample":"Zn-LDH","k":2.75,"chi":4.23},{"sample":"Zn-LDH","k":2.88,"chi":4.31},{"sample":"Zn-LDH","k":3.08,"chi":4.45},{"sample":"Zn-LDH","k":3.23,"chi":4.61},{"sample":"Zn-LDH","k":3.36,"chi":4.71},{"sample":"Zn-LDH","k":3.54,"chi":4.78},{"sample":"Zn-LDH","k":3.69,"chi":4.80},{"sample":"Zn-LDH","k":3.82,"chi":4.88},{"sample":"Zn-LDH","k":3.92,"chi":5.03},{"sample":"Zn-LDH","k":4.05,"chi":4.81},{"sample":"Zn-LDH","k":4.20,"chi":4.55},{"sample":"Zn-LDH","k":4.35,"chi":4.28},{"sample":"Zn-LDH","k":4.45,"chi":4.11},{"sample":"Zn-LDH","k":4.66,"chi":3.99},{"sample":"Zn-LDH","k":4.81,"chi":4.05},{"sample":"Zn-LDH","k":4.96,"chi":4.21},{"sample":"Zn-LDH","k":5.16,"chi":4.31},{"sample":"Zn-LDH","k":5.37,"chi":4.41},{"sample":"Zn-LDH","k":5.47,"chi":4.61},{"sample":"Zn-LDH","k":5.62,"chi":5.01},{"sample":"Zn-LDH","k":5.75,"chi":5.11},{"sample":"Zn-LDH","k":5.88,"chi":5.01},{"sample":"Zn-LDH","k":6.03,"chi":4.91},{"sample":"Zn-LDH","k":6.18,"chi":4.71},{"sample":"Zn-LDH","k":6.33,"chi":4.35},{"sample":"Zn-LDH","k":6.49,"chi":4.15},{"sample":"Zn-LDH","k":6.64,"chi":4.08},{"sample":"Zn-LDH","k":6.69,"chi":4.08},{"sample":"Zn-LDH","k":6.79,"chi":4.38},{"sample":"Zn-LDH","k":6.89,"chi":4.58},{"sample":"Zn-LDH","k":7.04,"chi":4.68},{"sample":"Zn-LDH","k":7.20,"chi":4.75},{"sample":"Zn-LDH","k":7.35,"chi":4.55},{"sample":"Zn-LDH","k":7.50,"chi":4.51},{"sample":"Zn-LDH","k":7.70,"chi":4.55},{"sample":"Zn-LDH","k":7.88,"chi":4.71},{"sample":"Zn-LDH","k":8.06,"chi":4.61},{"sample":"Zn-LDH","k":8.21,"chi":4.55},{"sample":"Zn-LDH","k":8.41,"chi":4.35},{"sample":"Zn-LDH","k":8.57,"chi":4.11},{"sample":"Zn-LDH","k":8.67,"chi":4.01},{"sample":"Zn-LDH","k":8.77,"chi":4.00},{"sample":"Zn-LDH","k":8.87,"chi":4.25},{"sample":"Zn-LDH","k":9.02,"chi":4.55},{"sample":"Zn-LDH","k":9.18,"chi":4.58},{"sample":"Zn-LDH","k":9.28,"chi":4.71},{"sample":"Zn-LDH","k":9.38,"chi":4.78},{"sample":"Zn-LDH","k":9.53,"chi":4.78},{"sample":"Zn-LDH","k":9.66,"chi":4.75},{"sample":"Zn-LDH","k":9.74,"chi":4.51},{"sample":"Zn-LDH","k":9.84,"chi":4.31},{"sample":"Zn-LDH","k":9.91,"chi":4.21},{"sample":"Zn-LDH","k":9.99,"chi":4.25},

      {"sample":"Zn-Kerolite","k":2.00,"chi":2.78},{"sample":"Zn-Kerolite","k":2.17,"chi":2.81},{"sample":"Zn-Kerolite","k":2.30,"chi":2.88},{"sample":"Zn-Kerolite","k":2.42,"chi":2.96},{"sample":"Zn-Kerolite","k":2.52,"chi":2.81},{"sample":"Zn-Kerolite","k":2.68,"chi":2.58},{"sample":"Zn-Kerolite","k":2.80,"chi":2.50},{"sample":"Zn-Kerolite","k":2.93,"chi":2.55},{"sample":"Zn-Kerolite","k":3.08,"chi":2.71},{"sample":"Zn-Kerolite","k":3.23,"chi":2.88},{"sample":"Zn-Kerolite","k":3.39,"chi":3.15},{"sample":"Zn-Kerolite","k":3.54,"chi":3.31},{"sample":"Zn-Kerolite","k":3.64,"chi":3.35},{"sample":"Zn-Kerolite","k":3.79,"chi":3.38},{"sample":"Zn-Kerolite","k":3.95,"chi":3.11},{"sample":"Zn-Kerolite","k":4.10,"chi":2.88},{"sample":"Zn-Kerolite","k":4.25,"chi":2.68},{"sample":"Zn-Kerolite","k":4.40,"chi":2.48},{"sample":"Zn-Kerolite","k":4.53,"chi":2.38},{"sample":"Zn-Kerolite","k":4.66,"chi":2.41},{"sample":"Zn-Kerolite","k":4.81,"chi":2.61},{"sample":"Zn-Kerolite","k":4.96,"chi":2.85},{"sample":"Zn-Kerolite","k":5.06,"chi":2.88},{"sample":"Zn-Kerolite","k":5.16,"chi":2.75},{"sample":"Zn-Kerolite","k":5.27,"chi":2.55},{"sample":"Zn-Kerolite","k":5.39,"chi":2.45},{"sample":"Zn-Kerolite","k":5.50,"chi":2.68},{"sample":"Zn-Kerolite","k":5.62,"chi":3.11},{"sample":"Zn-Kerolite","k":5.72,"chi":3.41},{"sample":"Zn-Kerolite","k":5.82,"chi":3.53},{"sample":"Zn-Kerolite","k":5.93,"chi":3.48},{"sample":"Zn-Kerolite","k":6.08,"chi":3.25},{"sample":"Zn-Kerolite","k":6.28,"chi":2.88},{"sample":"Zn-Kerolite","k":6.49,"chi":2.48},{"sample":"Zn-Kerolite","k":6.59,"chi":2.28},{"sample":"Zn-Kerolite","k":6.69,"chi":2.35},{"sample":"Zn-Kerolite","k":6.79,"chi":2.75},{"sample":"Zn-Kerolite","k":6.89,"chi":2.95},{"sample":"Zn-Kerolite","k":7.04,"chi":3.11},{"sample":"Zn-Kerolite","k":7.25,"chi":3.28},{"sample":"Zn-Kerolite","k":7.32,"chi":3.25},{"sample":"Zn-Kerolite","k":7.45,"chi":2.98},{"sample":"Zn-Kerolite","k":7.58,"chi":2.71},{"sample":"Zn-Kerolite","k":7.65,"chi":2.65},{"sample":"Zn-Kerolite","k":7.76,"chi":2.78},{"sample":"Zn-Kerolite","k":7.86,"chi":2.91},{"sample":"Zn-Kerolite","k":8.03,"chi":3.01},{"sample":"Zn-Kerolite","k":8.11,"chi":3.11},{"sample":"Zn-Kerolite","k":8.21,"chi":3.20},{"sample":"Zn-Kerolite","k":8.31,"chi":3.15},{"sample":"Zn-Kerolite","k":8.41,"chi":2.95},{"sample":"Zn-Kerolite","k":8.52,"chi":2.75},{"sample":"Zn-Kerolite","k":8.62,"chi":2.41},{"sample":"Zn-Kerolite","k":8.72,"chi":2.23},{"sample":"Zn-Kerolite","k":8.82,"chi":2.35},{"sample":"Zn-Kerolite","k":8.92,"chi":2.61},{"sample":"Zn-Kerolite","k":9.08,"chi":2.85},{"sample":"Zn-Kerolite","k":9.20,"chi":3.05},{"sample":"Zn-Kerolite","k":9.30,"chi":3.21},{"sample":"Zn-Kerolite","k":9.38,"chi":3.29},{"sample":"Zn-Kerolite","k":9.53,"chi":3.21},{"sample":"Zn-Kerolite","k":9.63,"chi":3.01},{"sample":"Zn-Kerolite","k":9.74,"chi":2.81},{"sample":"Zn-Kerolite","k":9.81,"chi":2.65},{"sample":"Zn-Kerolite","k":9.91,"chi":2.61},{"sample":"Zn-Kerolite","k":9.99,"chi":2.65},

      {"sample":"Zn-Ferrihydrite","k":2.00,"chi":1.23},{"sample":"Zn-Ferrihydrite","k":2.22,"chi":1.21},{"sample":"Zn-Ferrihydrite","k":2.37,"chi":1.19},{"sample":"Zn-Ferrihydrite","k":2.52,"chi":1.11},{"sample":"Zn-Ferrihydrite","k":2.68,"chi":0.98},{"sample":"Zn-Ferrihydrite","k":2.85,"chi":0.90},{"sample":"Zn-Ferrihydrite","k":3.03,"chi":0.98},{"sample":"Zn-Ferrihydrite","k":3.23,"chi":1.15},{"sample":"Zn-Ferrihydrite","k":3.41,"chi":1.38},{"sample":"Zn-Ferrihydrite","k":3.59,"chi":1.56},{"sample":"Zn-Ferrihydrite","k":3.74,"chi":1.63},{"sample":"Zn-Ferrihydrite","k":3.90,"chi":1.65},{"sample":"Zn-Ferrihydrite","k":4.05,"chi":1.67},{"sample":"Zn-Ferrihydrite","k":4.20,"chi":1.61},{"sample":"Zn-Ferrihydrite","k":4.35,"chi":1.49},{"sample":"Zn-Ferrihydrite","k":4.50,"chi":1.31},{"sample":"Zn-Ferrihydrite","k":4.66,"chi":1.08},{"sample":"Zn-Ferrihydrite","k":4.81,"chi":0.85},{"sample":"Zn-Ferrihydrite","k":4.96,"chi":0.78},{"sample":"Zn-Ferrihydrite","k":5.11,"chi":0.81},{"sample":"Zn-Ferrihydrite","k":5.27,"chi":0.91},{"sample":"Zn-Ferrihydrite","k":5.39,"chi":1.01},{"sample":"Zn-Ferrihydrite","k":5.50,"chi":1.21},{"sample":"Zn-Ferrihydrite","k":5.62,"chi":1.31},{"sample":"Zn-Ferrihydrite","k":5.77,"chi":1.41},{"sample":"Zn-Ferrihydrite","k":5.90,"chi":1.46},{"sample":"Zn-Ferrihydrite","k":6.03,"chi":1.51},{"sample":"Zn-Ferrihydrite","k":6.13,"chi":1.45},{"sample":"Zn-Ferrihydrite","k":6.23,"chi":1.43},{"sample":"Zn-Ferrihydrite","k":6.38,"chi":1.36},{"sample":"Zn-Ferrihydrite","k":6.54,"chi":1.28},{"sample":"Zn-Ferrihydrite","k":6.69,"chi":1.15},{"sample":"Zn-Ferrihydrite","k":6.89,"chi":1.07},{"sample":"Zn-Ferrihydrite","k":7.04,"chi":1.08},{"sample":"Zn-Ferrihydrite","k":7.25,"chi":1.06},{"sample":"Zn-Ferrihydrite","k":7.45,"chi":1.11},{"sample":"Zn-Ferrihydrite","k":7.58,"chi":1.25},{"sample":"Zn-Ferrihydrite","k":7.76,"chi":1.35},{"sample":"Zn-Ferrihydrite","k":7.88,"chi":1.48},{"sample":"Zn-Ferrihydrite","k":7.96,"chi":1.56},{"sample":"Zn-Ferrihydrite","k":8.03,"chi":1.51},{"sample":"Zn-Ferrihydrite","k":8.11,"chi":1.55},{"sample":"Zn-Ferrihydrite","k":8.19,"chi":1.47},{"sample":"Zn-Ferrihydrite","k":8.26,"chi":1.55},{"sample":"Zn-Ferrihydrite","k":8.34,"chi":1.41},{"sample":"Zn-Ferrihydrite","k":8.44,"chi":1.35},{"sample":"Zn-Ferrihydrite","k":8.54,"chi":1.28},{"sample":"Zn-Ferrihydrite","k":8.62,"chi":1.28},{"sample":"Zn-Ferrihydrite","k":8.72,"chi":1.15},{"sample":"Zn-Ferrihydrite","k":8.80,"chi":1.09},{"sample":"Zn-Ferrihydrite","k":8.82,"chi":0.96},{"sample":"Zn-Ferrihydrite","k":8.90,"chi":1.11},{"sample":"Zn-Ferrihydrite","k":8.97,"chi":1.05},{"sample":"Zn-Ferrihydrite","k":9.08,"chi":1.08},{"sample":"Zn-Ferrihydrite","k":9.18,"chi":1.18},{"sample":"Zn-Ferrihydrite","k":9.28,"chi":1.23},{"sample":"Zn-Ferrihydrite","k":9.38,"chi":1.15},{"sample":"Zn-Ferrihydrite","k":9.48,"chi":1.25},{"sample":"Zn-Ferrihydrite","k":9.58,"chi":1.28},{"sample":"Zn-Ferrihydrite","k":9.63,"chi":1.36},{"sample":"Zn-Ferrihydrite","k":9.69,"chi":1.25},{"sample":"Zn-Ferrihydrite","k":9.79,"chi":1.28},{"sample":"Zn-Ferrihydrite","k":9.89,"chi":1.38},{"sample":"Zn-Ferrihydrite","k":9.94,"chi":1.31},{"sample":"Zn-Ferrihydrite","k":9.99,"chi":1.33}
    ],
    "lowerLabels": [
      {"sample":"Sphalerite","k":10.23,"chi":9.24},
      {"sample":"Zn-FeO","k":10.18,"chi":7.73},
      {"sample":"ZnO","k":10.23,"chi":6.30},
      {"sample":"Zn-LDH","k":10.10,"chi":4.33},
      {"sample":"Zn-Kerolite","k":10.14,"chi":2.73},
      {"sample":"Zn-Ferrihydrite","k":10.09,"chi":1.30}
    ]
  },
  "vconcat": [
    {
      "width": 521,
      "height": 513,
      "layer": [
        {
          "data": {"name": "upper"},
          "mark": {"type": "line", "color": "black", "strokeWidth": 2.5, "interpolate": "monotone"},
          "encoding": {
            "x": {
              "field": "k", "type": "quantitative",
              "scale": {"domain": [2, 10], "nice": false, "zero": false},
              "axis": {
                "values": [2, 3, 4, 5, 6, 7, 8, 9, 10], "format": "d",
                "tickSize": 6, "labelFontSize": 27, "labelPadding": 17,
                "labelFlush": false, "labelOverlap": false,
                "title": "k (Å)⁻¹", "titleFontSize": 28, "titlePadding": 29
              }
            },
            "y": {
              "field": "chi", "type": "quantitative",
              "scale": {"domain": [0, 10.26], "nice": false, "zero": false},
              "axis": {"title": "χ(k) x k³", "labels": false, "ticks": false, "titleFontSize": 30, "titlePadding": 35}
            },
            "detail": {"field": "sample", "type": "nominal"}
          }
        },
        {
          "data": {"name": "upperLabels"},
          "mark": {"type": "text", "align": "left", "baseline": "middle", "fontSize": 26},
          "encoding": {
            "x": {"field": "k", "type": "quantitative", "scale": {"domain": [2, 10], "nice": false, "zero": false}},
            "y": {"field": "chi", "type": "quantitative", "scale": {"domain": [0, 10.26], "nice": false, "zero": false}},
            "text": {"field": "sample", "type": "nominal"}
          }
        }
      ]
    },
    {
      "width": 529,
      "height": 512,
      "layer": [
        {
          "data": {"name": "lower"},
          "mark": {"type": "line", "color": "black", "strokeWidth": 2.5, "interpolate": "monotone"},
          "encoding": {
            "x": {
              "field": "k", "type": "quantitative",
              "scale": {"domain": [2, 10], "range": [4, 529], "nice": false, "zero": false},
              "axis": {
                "values": [2, 3, 4, 5, 6, 7, 8, 9, 10], "format": "d",
                "tickSize": 6, "labelFontSize": 27, "labelPadding": 17,
                "labelFlush": false, "labelOverlap": false,
                "title": "k (Å)⁻¹", "titleFontSize": 28, "titlePadding": 29
              }
            },
            "y": {
              "field": "chi", "type": "quantitative",
              "scale": {"domain": [0, 10.24], "nice": false, "zero": false},
              "axis": {"title": "χ(k) x k³", "labels": false, "ticks": false, "titleFontSize": 30, "titlePadding": 35, "offset": -4}
            },
            "detail": {"field": "sample", "type": "nominal"}
          }
        },
        {
          "data": {"name": "lowerLabels"},
          "mark": {"type": "text", "align": "left", "baseline": "middle", "fontSize": 26},
          "encoding": {
            "x": {"field": "k", "type": "quantitative", "scale": {"domain": [2, 10], "range": [4, 529], "nice": false, "zero": false}},
            "y": {"field": "chi", "type": "quantitative", "scale": {"domain": [0, 10.24], "nice": false, "zero": false}},
            "text": {"field": "sample", "type": "nominal"}
          }
        }
      ]
    }
  ]
}
